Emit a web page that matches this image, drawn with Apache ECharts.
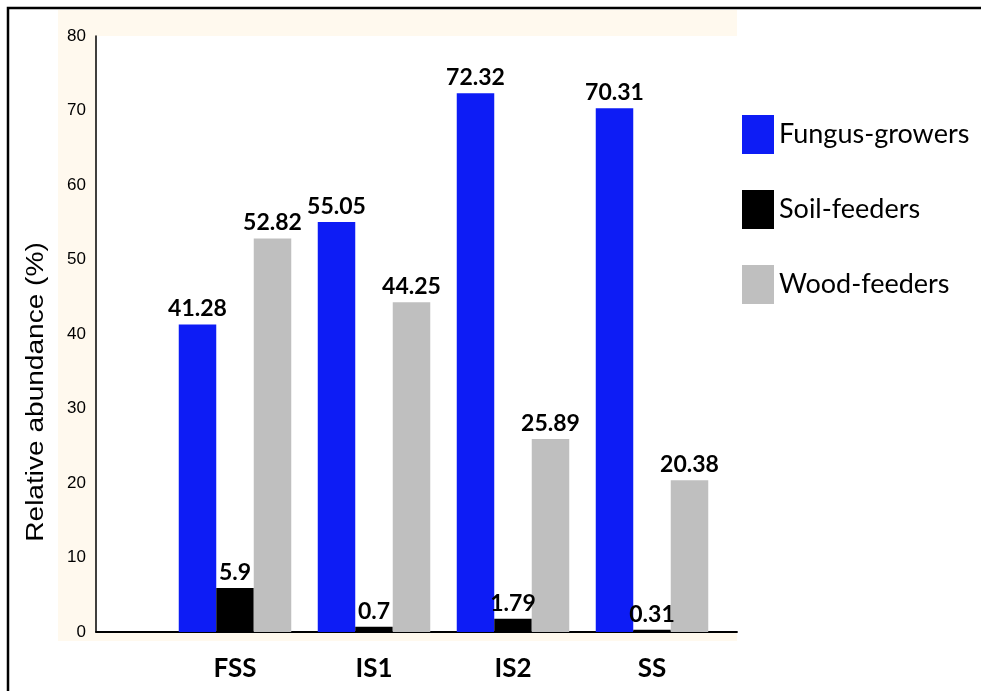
<!DOCTYPE html>
<html>
<head>
<meta charset="utf-8">
<title>Relative abundance of termite feeding groups</title>
<script src="https://cdn.jsdelivr.net/npm/echarts@6/dist/echarts.min.js"></script>
<style>
  html, body { margin: 0; padding: 0; background: #ffffff; }
  #chart { width: 981px; height: 691px; }
</style>
</head>
<body>
<div id="chart"></div>
<script>
// Sites and feeding-group abundances (%)
const categories = ['FSS', 'IS1', 'IS2', 'SS'];
const fungusGrowers = [41.28, 55.05, 72.32, 70.31];
const soilFeeders = [5.9, 0.7, 1.79, 0.31];
const woodFeeders = [52.82, 44.25, 25.89, 20.38];
const yTicks = { min: 0, max: 80, interval: 10 };

const labelFont = 'Lato, "Open Sans", sans-serif';

function barSeries(name, data, color) {
  return {
    name: name,
    type: 'bar',
    xAxisIndex: 1,
    yAxisIndex: 1,
    data: data,
    barWidth: 37.5,
    barGap: '0%',
    itemStyle: { color: color },
    label: {
      show: true,
      position: 'top',
      distance: 4,
      color: '#000',
      fontFamily: labelFont,
      fontWeight: 'bold',
      fontSize: 23
    }
  };
}

const chart = echarts.init(document.getElementById('chart'), null, { renderer: 'canvas' });

chart.setOption({
  backgroundColor: '#ffffff',
  animation: false,
  graphic: [
    {
      // cream frame behind the plotting area
      type: 'rect',
      z: -10,
      shape: { x: 58, y: 10, width: 679, height: 631 },
      style: { fill: '#fff9ee' },
      silent: true
    },
    {
      // outer border
      type: 'rect',
      z: 100,
      shape: { x: 8, y: 8, width: 990, height: 700 },
      style: { fill: 'none', stroke: '#000', lineWidth: 2.5 },
      silent: true
    },
    {
      type: 'text',
      x: 37,
      y: 392,
      rotation: Math.PI / 2,
      scaleX: 1.22,
      style: {
        text: 'Relative abundance (%)',
        font: '23px "Liberation Sans", Arial, sans-serif',
        fill: '#000',
        textAlign: 'center',
        textVerticalAlign: 'middle'
      },
      silent: true
    }
  ],
  legend: {
    orient: 'vertical',
    left: 737,
    top: 110,
    itemWidth: 32,
    itemHeight: 39,
    itemGap: 36,
    icon: 'rect',
    textStyle: {
      fontFamily: labelFont,
      fontSize: 27,
      color: '#000'
    },
    data: ['Fungus-growers', 'Soil-feeders', 'Wood-feeders']
  },
  grid: [
    {
      // axes frame
      left: 96, top: 36, width: 641, height: 596,
      show: true, backgroundColor: '#ffffff', borderWidth: 0
    },
    {
      // bar bands
      left: 165.5, top: 36, width: 556, height: 596,
      show: false
    }
  ],
  xAxis: [
    {
      type: 'value',
      gridIndex: 0,
      min: 0, max: 1,
      axisLine: { show: true, lineStyle: { color: '#000', width: 1.8 } },
      axisTick: { show: false },
      axisLabel: { show: false },
      splitLine: { show: false }
    },
    {
      type: 'category',
      gridIndex: 1,
      data: categories,
      axisLine: { show: false },
      axisTick: { show: false },
      axisLabel: {
        margin: 24,
        color: '#000',
        fontFamily: labelFont,
        fontWeight: 'bold',
        fontSize: 26
      }
    }
  ],
  yAxis: [
    {
      type: 'value',
      gridIndex: 0,
      min: yTicks.min, max: yTicks.max, interval: yTicks.interval,
      axisLine: { show: true, lineStyle: { color: '#000', width: 1.5 } },
      axisTick: { show: false },
      splitLine: { show: false },
      axisLabel: {
        margin: 10,
        color: '#000',
        fontFamily: '"Liberation Sans", Arial, sans-serif',
        fontSize: 17
      }
    },
    {
      type: 'value',
      gridIndex: 1,
      min: yTicks.min, max: yTicks.max, interval: yTicks.interval,
      show: false
    }
  ],
  series: [
    barSeries('Fungus-growers', fungusGrowers, '#0d1cf5'),
    barSeries('Soil-feeders', soilFeeders, '#000000'),
    barSeries('Wood-feeders', woodFeeders, '#bfbfbf')
  ]
});
</script>
</body>
</html>
